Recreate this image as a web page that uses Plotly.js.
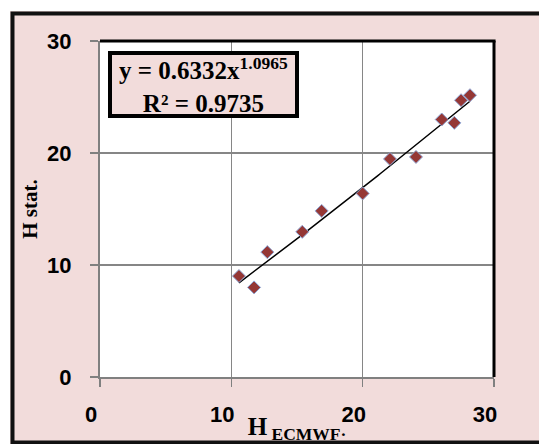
<!DOCTYPE html>
<html>
<head>
<meta charset="utf-8">
<script src="https://cdn.plot.ly/plotly-3.0.1.min.js"></script>
<style>html,body{margin:0;padding:0;background:#fff;}#chart{width:539px;height:444px;}</style>
</head>
<body>
<div id="chart"></div>
<script>
// Observed points (H ECMWF vs H stat.)
const hEcmwf = [10.58, 11.73, 12.74, 15.40, 16.88, 20.00, 22.08, 24.06, 26.02, 26.98, 27.49, 28.17];
const hStat  = [9.01, 8.00, 11.15, 12.96, 14.83, 16.39, 19.47, 19.65, 22.99, 22.69, 24.71, 25.16];
// Power trendline coefficients shown on the chart
const fitA = 0.6332;
const fitB = 1.0965;
const fitR2 = 0.9735;
const tickVals = [0, 10, 20, 30];
const tickText = ['0', '10', '20', '30'];

const xMin = Math.min(...hEcmwf), xMax = Math.max(...hEcmwf);
const trendX = [], trendY = [];
for (let i = 0; i <= 60; i++) {
  const x = xMin + (xMax - xMin) * i / 60;
  trendX.push(x);
  trendY.push(fitA * Math.pow(x, fitB));
}

const pink = '#F2DCDB';
const traces = [
  {x: trendX, y: trendY, mode: 'lines', type: 'scatter',
   line: {color: '#000', width: 1.5}, hoverinfo: 'skip', showlegend: false},
  {x: hEcmwf, y: hStat, mode: 'markers', type: 'scatter',
   marker: {symbol: 'diamond', size: 10, color: '#953735', line: {color: '#8FA8D8', width: 1}},
   showlegend: false}
];

const tickFont = {family: 'Liberation Sans, Arial, sans-serif', size: 22, color: '#000', weight: 'bold'};
const layout = {
  width: 539, height: 444,
  margin: {l: 100, r: 45, t: 41, b: 67, pad: 0},
  paper_bgcolor: pink,
  plot_bgcolor: '#fff',
  showlegend: false,
  xaxis: {
    range: [0, 30], tickvals: tickVals, ticktext: tickText,
    showgrid: true, gridcolor: '#868686', gridwidth: 1.5, zeroline: false,
    showline: true, linecolor: '#808080', linewidth: 2,
    ticks: 'outside', ticklen: 8, tickcolor: '#808080', tickwidth: 1.5,
    tickfont: tickFont, ticklabelstandoff: 9, ticklabelshift: -9,
    title: {text: 'H<sub> ECMWF·</sub>', standoff: 0,
            font: {family: 'Liberation Serif, Times New Roman, serif', size: 25, color: '#000', weight: 'bold'}},
    fixedrange: true
  },
  yaxis: {
    range: [0, 30], tickvals: tickVals, ticktext: tickText,
    showgrid: true, gridcolor: '#868686', gridwidth: 1.5, zeroline: false,
    showline: true, linecolor: '#808080', linewidth: 2,
    ticks: 'outside', ticklen: 8, tickcolor: '#808080', tickwidth: 1.5,
    tickfont: tickFont, ticklabelstandoff: 14,
    title: {text: 'H stat.', standoff: 4,
            font: {family: 'Liberation Serif, Times New Roman, serif', size: 21, color: '#000', weight: 'bold'}},
    fixedrange: true
  },
  shapes: [
    // white outside of the chart frame
    {type: 'rect', xref: 'paper', yref: 'paper', x0: -0.3, x1: -0.2284, y0: -0.3, y1: 1.3,
     fillcolor: '#fff', line: {width: 0}, layer: 'below'},
    {type: 'rect', xref: 'paper', yref: 'paper', x0: -0.3, x1: 1.3, y0: 1.089, y1: 1.3,
     fillcolor: '#fff', line: {width: 0}, layer: 'below'},
    // chart frame border
    {type: 'rect', xref: 'paper', yref: 'paper', x0: -0.2221, x1: 1.27, y0: -0.1949, y1: 1.0818,
     line: {color: '#111', width: 4}, layer: 'below'},
    // plot area top and right border
    {type: 'line', xref: 'paper', yref: 'paper', x0: 0, x1: 1.004, y0: 1.0, y1: 1.0,
     line: {color: '#000', width: 3}, layer: 'above'},
    {type: 'line', xref: 'paper', yref: 'paper', x0: 1.0, x1: 1.0, y0: 0, y1: 1.0,
     line: {color: '#000', width: 3}, layer: 'above'}
  ],
  annotations: [
    {xref: 'paper', yref: 'paper', x: 0.2627, y: 0.8705, xanchor: 'center', yanchor: 'middle',
     text: 'y = 0.6332x<sup>1.0965</sup><br>R² = 0.9735',
     showarrow: false, align: 'center', width: 183, height: 59,
     font: {family: 'Liberation Serif, Times New Roman, serif', size: 25, color: '#000', weight: 'bold'},
     bgcolor: pink, bordercolor: '#000', borderwidth: 4, borderpad: 0}
  ]
};

Plotly.newPlot('chart', traces, layout, {staticPlot: true, displayModeBar: false});
</script>
</body>
</html>
